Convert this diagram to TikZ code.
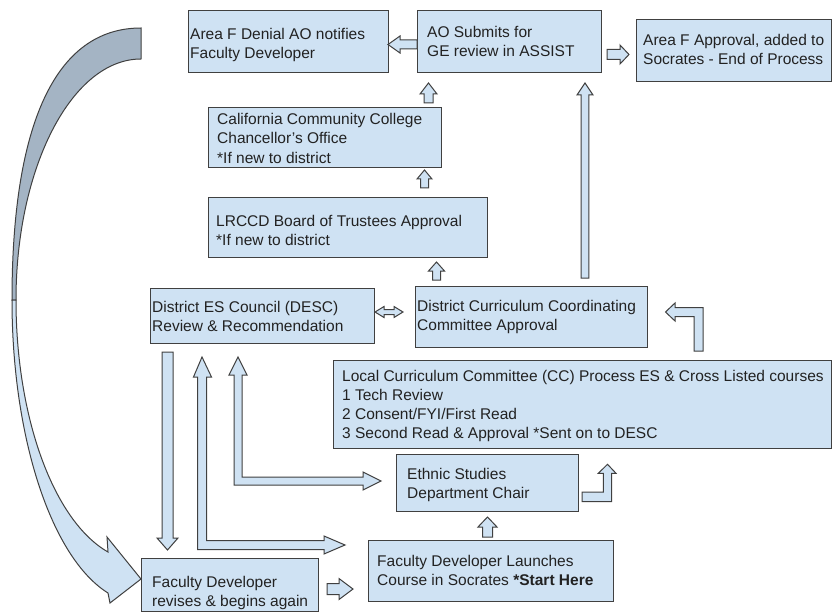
\documentclass[tikz,border=0pt]{standalone}
\usepackage{fontspec}
\setmainfont{Liberation Sans}
\usetikzlibrary{calc}
\definecolor{boxfill}{RGB}{207,226,243}
\definecolor{bordercol}{RGB}{64,64,64}
\definecolor{darkfill}{RGB}{164,180,196}
\definecolor{textcol}{RGB}{34,34,34}
\newcommand\lnst{\vrule height 13.5bp depth 5.7bp width 0pt}
% straight block arrow: tail, tip, half shaft, half head, head length
\newcommand\blockarrow[5]{%
  \path ($(#2)!#5bp!(#1)$) coordinate (bac);
  \draw[barrow] ($(#1)!#3bp!90:(#2)$) -- ($(bac)!#3bp!-90:(#1)$) -- ($(bac)!#4bp!-90:(#1)$) -- (#2)
    -- ($(bac)!#4bp!90:(#1)$) -- ($(bac)!#3bp!90:(#1)$) -- ($(#1)!#3bp!-90:(#2)$) -- cycle;}
% double-headed block arrow
\newcommand\dblockarrow[5]{%
  \path ($(#1)!#5bp!(#2)$) coordinate (bca) ($(#2)!#5bp!(#1)$) coordinate (bcb);
  \draw[barrow] (#1) -- ($(bca)!#4bp!90:(#2)$) -- ($(bca)!#3bp!90:(#2)$) -- ($(bcb)!#3bp!-90:(#1)$)
    -- ($(bcb)!#4bp!-90:(#1)$) -- (#2) -- ($(bcb)!#4bp!90:(#1)$) -- ($(bcb)!#3bp!90:(#1)$)
    -- ($(bca)!#3bp!-90:(#2)$) -- ($(bca)!#4bp!-90:(#2)$) -- cycle;}
\begin{document}
\begin{tikzpicture}[x=1bp,y=-1bp,
  box/.style={draw=bordercol, fill=boxfill, line width=1.2bp, rectangle, inner sep=0pt, anchor=north west},
  txt/.style={anchor=north west, inner sep=0pt, align=left, text=textcol, font=\fontsize{15.5bp}{19.2bp}\selectfont},
  barrow/.style={draw=bordercol, fill=boxfill, line width=1bp, line join=miter},
  curvedark/.style={draw=bordercol, fill=darkfill, line width=1bp}]
\useasboundingbox (0,0) rectangle (832,612);
\fill[white] (0,0) rectangle (832,612);

% boxes
\node[box, minimum width=200bp, minimum height=62bp] (denial) at (188,10) {};
\node[box, minimum width=184bp, minimum height=62bp] (submit) at (417,10) {};
\node[box, minimum width=195bp, minimum height=62bp] (approval) at (636,19) {};
\node[box, minimum width=233bp, minimum height=60bp] (cccco) at (208,107) {};
\node[box, minimum width=279bp, minimum height=60bp] (lrccd) at (208,197) {};
\node[box, minimum width=224bp, minimum height=55bp] (desc) at (150,288) {};
\node[box, minimum width=232bp, minimum height=61bp] (dccc) at (415,286) {};
\node[box, minimum width=498bp, minimum height=88bp] (local) at (333,360) {};
\node[box, minimum width=182bp, minimum height=57bp] (chair) at (396,454) {};
\node[box, minimum width=245bp, minimum height=61bp] (launch) at (368,540) {};
\node[box, minimum width=177bp, minimum height=53bp] (revise) at (141,558) {};

% texts
\node[txt] (tdenial) at (190,25.5) {\lnst Area F Denial AO notifies\\\lnst Faculty Developer};
\node[txt] (tsubmit) at (427,24) {\lnst AO Submits for\\\lnst GE review in ASSIST};
\node[txt] (tapproval) at (643,32) {\lnst Area F Approval, added to\\\lnst Socrates - End of Process};
\node[txt] (tcccco) at (217,111) {\lnst California Community College\\\lnst Chancellor’s Office\\\lnst *If new to district};
\node[txt] (tlrccd) at (216,212.5) {\lnst LRCCD Board of Trustees Approval\\\lnst *If new to district};
\node[txt] (tdesc) at (152,298.5) {\lnst District ES Council (DESC)\\\lnst Review \& Recommendation};
\node[txt] (tdccc) at (417,298) {\lnst District Curriculum Coordinating\\\lnst Committee Approval};
\node[txt] (tlocal) at (342,367.5) {\lnst Local Curriculum Committee (CC) Process ES \& Cross Listed courses\\\lnst 1 Tech Review\\\lnst 2 Consent/FYI/First Read\\\lnst 3 Second Read \& Approval *Sent on to DESC};
\node[txt] (tchair) at (407,465.5) {\lnst Ethnic Studies\\\lnst Department Chair};
\node[txt] (tlaunch) at (377,553) {\lnst Faculty Developer Launches\\\lnst Course in Socrates \textbf{*Start Here}};
\node[txt] (trevise) at (152,574) {\lnst Faculty Developer\\\lnst revises \& begins again};

% arrow end points
\coordinate (a1s) at (417,44.5);   \coordinate (a1e) at (388,44.5);
\coordinate (a2s) at (607,54.5);   \coordinate (a2e) at (629,54.5);
\coordinate (a3s) at (428.5,103);  \coordinate (a3e) at (428.5,83);
\coordinate (a4s) at (585,278);    \coordinate (a4e) at (585,83);
\coordinate (a5s) at (424.5,188);  \coordinate (a5e) at (424.5,170);
\coordinate (a6s) at (436.5,280);  \coordinate (a6e) at (436.5,262);
\coordinate (a7s) at (375,312);    \coordinate (a7e) at (403,312);
\coordinate (a8s) at (487.5,537);  \coordinate (a8e) at (487.5,517);
\coordinate (a9s) at (327,589);    \coordinate (a9e) at (353,589);
\coordinate (a10s) at (167.5,352); \coordinate (a10e) at (167.5,550);

\blockarrow{a1s}{a1e}{4.5}{8.5}{12}
\blockarrow{a2s}{a2e}{5}{9.5}{9}
\blockarrow{a3s}{a3e}{4.5}{8.5}{11}
\blockarrow{a4s}{a4e}{3.8}{8}{12}
\blockarrow{a5s}{a5e}{4}{7.5}{9}
\blockarrow{a6s}{a6e}{4}{8}{9}
\dblockarrow{a7s}{a7e}{2.5}{5.5}{9}
\blockarrow{a8s}{a8e}{5}{9.5}{10}
\blockarrow{a9s}{a9e}{5.5}{10.5}{14}
\blockarrow{a10s}{a10e}{5.5}{10.5}{12}

% elbow arrows
\draw[barrow] (665.5,312) -- (675,303) -- (675,307.5) -- (703,307.5) -- (703,351) -- (694,351)
  -- (694,316.5) -- (675,316.5) -- (675,321) -- cycle;
\draw[barrow] (582,492) -- (603.3,492) -- (603.3,473.3) -- (598.3,473.3) -- (607.5,464.3) -- (616,473.3)
  -- (611.7,473.3) -- (611.7,501.7) -- (582,501.7) -- cycle;
\draw[barrow] (345,545) -- (324,554) -- (324,549.5) -- (197.5,549.5) -- (197.5,377) -- (193.5,377)
  -- (202,357) -- (211.5,377) -- (206.5,377) -- (206.5,540.5) -- (324,540.5) -- (324,536) -- cycle;
\draw[barrow] (381,481) -- (363,490) -- (363,485) -- (234,485) -- (234,375) -- (229,375) -- (238,357)
  -- (247,375) -- (242,375) -- (242,477) -- (363,477) -- (363,472) -- cycle;

% curved return arrow
\draw[curvedark] (141,28) .. controls (55,28) and (12,125) .. (12,300) -- (16,300)
  .. controls (16,167) and (72,59) .. (141,59) -- cycle;
\draw[barrow] (12,300) .. controls (12,437.5) and (51.4,557.8) .. (108,593) -- (110,603) -- (141,579)
  -- (107,537) -- (108,552) .. controls (53.7,521) and (16,417.6) .. (16,300) -- cycle;
\end{tikzpicture}
\end{document}
